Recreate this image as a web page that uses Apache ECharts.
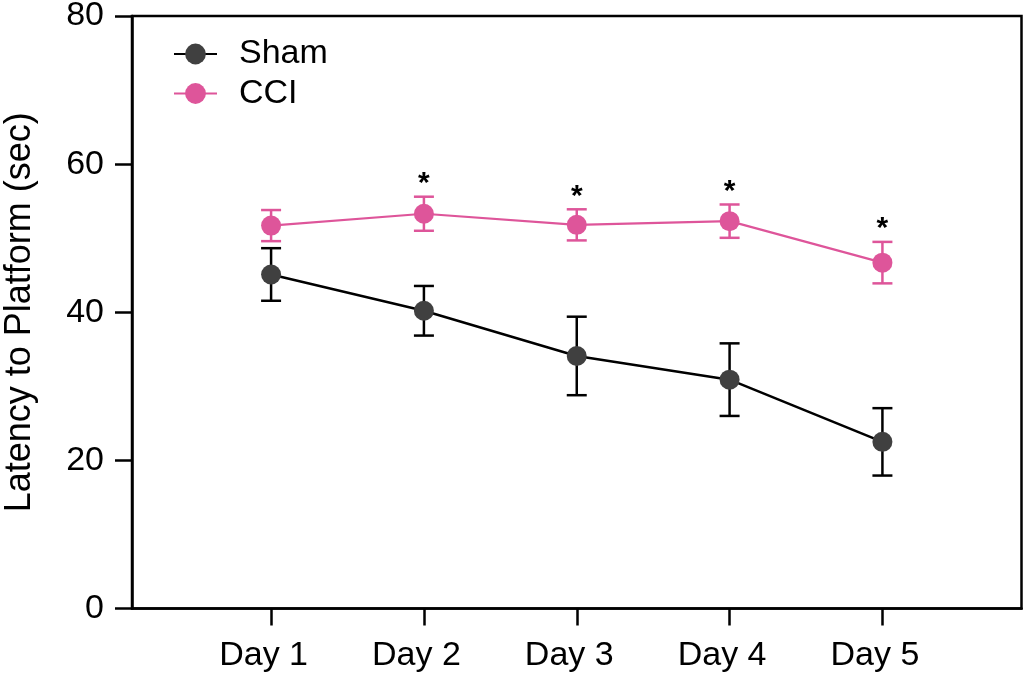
<!DOCTYPE html>
<html>
<head>
<meta charset="utf-8">
<script src="https://cdn.jsdelivr.net/npm/echarts@6/dist/echarts.min.js"></script>
<style>
html,body{margin:0;padding:0;background:#fff;}
#chart{width:1024px;height:681px;}
</style>
</head>
<body>
<div id="chart"></div>
<script>
const categories = ['Day 1', 'Day 2', 'Day 3', 'Day 4', 'Day 5'];
const shamMean = [45.1, 40.2, 34.1, 30.9, 22.5];
const shamSem  = [3.55, 3.35, 5.3, 4.9, 4.55];
const cciMean  = [51.7, 53.3, 51.8, 52.3, 46.7];
const cciSem   = [2.1, 2.3, 2.1, 2.25, 2.8];
const sigMarks = ['', '*', '*', '*', '*'];
const yTicks = [0, 20, 40, 60, 80];

const FONT = 'Liberation Sans, Arial, sans-serif';
const SHAM_LINE = '#000000', SHAM_DOT = '#404040';
const CCI_COL = '#DE559A';

const xs = categories.map((c, i) => i + 1);
const lineData = (m) => m.map((v, i) => [xs[i], v]);
const errData = (m, s) => m.map((v, i) => [xs[i], v - s[i], v + s[i]]);

function errRender(color) {
  return function (params, api) {
    const x = api.value(0);
    const lo = api.coord([x, api.value(1)]);
    const hi = api.coord([x, api.value(2)]);
    const hw = 10;
    const st = { stroke: color, lineWidth: 2.5 };
    return { type: 'group', children: [
      { type: 'line', shape: { x1: hi[0], y1: hi[1], x2: lo[0], y2: lo[1] }, style: st },
      { type: 'line', shape: { x1: hi[0] - hw, y1: hi[1], x2: hi[0] + hw, y2: hi[1] }, style: st },
      { type: 'line', shape: { x1: lo[0] - hw, y1: lo[1], x2: lo[0] + hw, y2: lo[1] }, style: st }
    ]};
  };
}

const starData = cciMean.map((v, i) => [xs[i], v + cciSem[i], sigMarks[i]]);

const chart = echarts.init(document.getElementById('chart'), null, { renderer: 'canvas' });
chart.setOption({
  animation: false,
  backgroundColor: '#fff',
  textStyle: { fontFamily: FONT },
  grid: { left: 132, right: 2.5, top: 16, bottom: 72.5, outerBoundsMode: 'none', containLabel: false,
          show: true, borderColor: '#000', borderWidth: 2.5, backgroundColor: 'transparent' },
  legend: {
    data: ['Sham', 'CCI'],
    orient: 'vertical',
    left: 168, top: 32,
    itemWidth: 43, itemHeight: 26, itemGap: 5.5,
    textStyle: { fontFamily: FONT, fontSize: 34, color: '#000', lineHeight: 34, padding: [0, 0, 0, 17] }
  },
  xAxis: {
    type: 'value', min: 0.09, max: 5.91,
    splitLine: { show: false },
    axisLine: { lineStyle: { color: '#000', width: 2.5 } },
    axisTick: { show: true, customValues: xs, length: 17, lineStyle: { color: '#000', width: 2.5 } },
    axisLabel: { customValues: xs, formatter: (v) => categories[Math.round(v) - 1] || '', fontSize: 34, color: '#000', fontFamily: FONT, margin: 30, padding: [0, 15, 0, 0] }
  },
  yAxis: {
    type: 'value', min: 0, max: 80, interval: 20,
    name: 'Latency to Platform (sec)', nameLocation: 'middle', nameGap: 94,
    nameTextStyle: { fontSize: 36, color: '#000', fontFamily: FONT },
    splitLine: { show: false },
    axisLine: { show: true, lineStyle: { color: '#000', width: 2.5 } },
    axisTick: { show: true, length: 17, lineStyle: { color: '#000', width: 2.5 } },
    axisLabel: { fontSize: 34, color: '#000', fontFamily: FONT, margin: 28, formatter: (v) => yTicks.includes(v) ? String(v) : '' }
  },
  series: [
    { name: 'Sham err', type: 'custom', renderItem: errRender(SHAM_LINE), data: errData(shamMean, shamSem), z: 1, silent: true },
    { name: 'CCI err', type: 'custom', renderItem: errRender(CCI_COL), data: errData(cciMean, cciSem), z: 1, silent: true },
    { name: 'Sham', type: 'line', data: lineData(shamMean), symbol: 'circle', symbolSize: 20,
      lineStyle: { color: SHAM_LINE, width: 2.5 }, itemStyle: { color: SHAM_DOT }, z: 3 },
    { name: 'CCI', type: 'line', data: lineData(cciMean), symbol: 'circle', symbolSize: 20,
      lineStyle: { color: CCI_COL, width: 2.2 }, itemStyle: { color: CCI_COL }, z: 3 },
    { name: 'sig', type: 'custom', silent: true, z: 4, data: starData,
      renderItem: function (params, api) {
        const p = api.coord([api.value(0), api.value(1)]);
        const t = starData[params.dataIndex][2];
        return { type: 'text', x: p[0], y: p[1] - 13, style: { text: t, fontSize: 30, fontWeight: 'bold', fontFamily: FONT, fill: '#000', align: 'center', verticalAlign: 'middle' } };
      }
    }
  ]
});
</script>
</body>
</html>
